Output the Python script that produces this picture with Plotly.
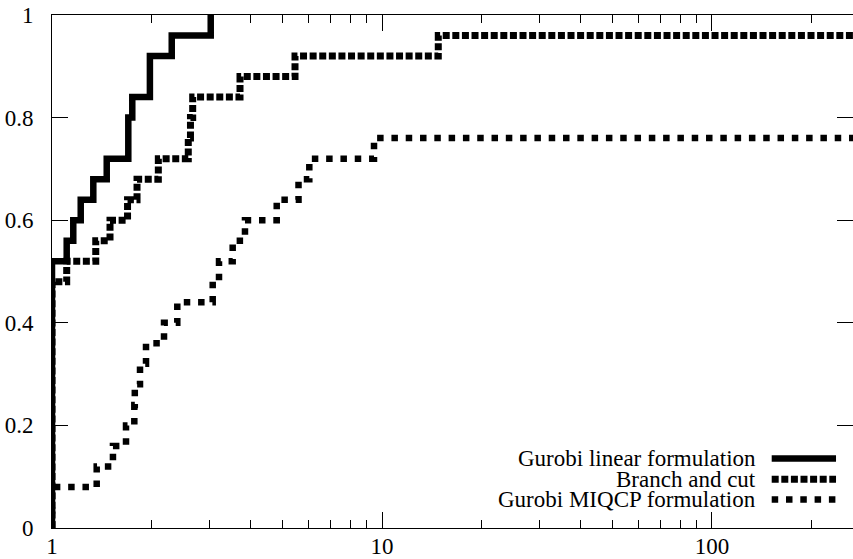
import plotly.graph_objects as go

# ---- data (performance profile, 25 instances) ----
lin_tau = [1, 1, 1.108, 1.160, 1.222, 1.334, 1.465, 1.703, 1.751, 1.98, 2.306, 3.027]
lin_rho = [0, 0.52, 0.56, 0.60, 0.64, 0.68, 0.72, 0.80, 0.84, 0.92, 0.96, 1.0]

bc_tau = [1, 1, 1.108, 1.357, 1.499, 1.694, 1.810, 2.100, 2.588, 2.628, 2.669, 3.713, 5.450, 14.81, 1000]
bc_rho = [0, 0.48, 0.52, 0.56, 0.60, 0.64, 0.68, 0.72, 0.76, 0.80, 0.84, 0.88, 0.92, 0.96, 0.96]

miq_tau = [1, 1, 1.366, 1.530, 1.676, 1.776, 1.782, 1.848, 1.927, 2.185, 2.397, 3.069, 3.207,
           3.528, 3.844, 4.797, 5.585, 6.022, 9.458, 1000]
miq_rho = [0, 0.08, 0.12, 0.16, 0.20, 0.24, 0.28, 0.32, 0.36, 0.40, 0.44, 0.48, 0.52,
           0.56, 0.60, 0.64, 0.68, 0.72, 0.76, 0.76]

series_names = ["Gurobi linear formulation", "Branch and cut", "Gurobi MIQCP formulation"]

x_tickvals = [1, 10, 100]
x_ticktext = ["1", "10", "100"]
x_minor = [2, 3, 4, 5, 6, 7, 8, 9, 20, 30, 40, 50, 60, 70, 80, 90, 200]
y_tickvals = [0, 0.2, 0.4, 0.6, 0.8, 1.0]
y_ticktext = ["0", "0.2", "0.4", "0.6", "0.8", "1"]

FONT = "Liberation Serif"
styles = [
    dict(color="black", width=6.5, dash="solid"),
    dict(color="black", width=7, dash="7px,2.6px"),
    dict(color="black", width=6.5, dash="6.5px,7.8px"),
]

fig = go.Figure()
for (tx, ry), st in zip([(lin_tau, lin_rho), (bc_tau, bc_rho), (miq_tau, miq_rho)], styles):
    fig.add_trace(go.Scatter(x=tx, y=ry, mode="lines", line=dict(shape="hv", **st),
                             showlegend=False, hoverinfo="skip"))

# legend (gnuplot-style: text right-aligned, sample on the right)
leg_y = [0.1354, 0.095, 0.0554]
for name, st, yy in zip(series_names, styles, leg_y):
    fig.add_trace(go.Scatter(x=[0.8985, 0.9788], y=[yy, yy], xaxis="x2", yaxis="y",
                             mode="lines", line=st, showlegend=False, hoverinfo="skip"))
    fig.add_annotation(x=0.8814, y=yy, xref="paper", yref="y", text=name, showarrow=False,
                       xanchor="right", yanchor="middle",
                       font=dict(family=FONT, size=23, color="black"))

fig.update_layout(
    width=853, height=559,
    margin=dict(l=52, r=0, t=15, b=31),
    paper_bgcolor="white", plot_bgcolor="white",
    font=dict(family=FONT, size=23, color="black"),
    xaxis=dict(type="log", range=[0, 2.4273], tickvals=x_tickvals, ticktext=x_ticktext,
               ticks="inside", ticklen=16, tickwidth=1, tickcolor="black",
               showline=True, linecolor="black", linewidth=1, mirror="ticks",
               showgrid=False, zeroline=False, automargin=False, ticklabelstandoff=-3,
               minor=dict(tickvals=x_minor, ticks="inside", ticklen=8, tickwidth=1,
                          tickcolor="black", showgrid=False)),
    xaxis2=dict(overlaying="x", range=[0, 1], visible=False),
    yaxis=dict(range=[0, 1], tickvals=y_tickvals, ticktext=y_ticktext,
               ticks="inside", ticklen=16, tickwidth=1, tickcolor="black",
               showline=True, linecolor="black", linewidth=1, mirror="ticks",
               showgrid=False, zeroline=False, automargin=False, ticklabelstandoff=13),
)

fig.write_html("out.html", config={"displayModeBar": False},
               post_script="document.body.style.margin='0px';document.body.style.overflow='hidden';")
